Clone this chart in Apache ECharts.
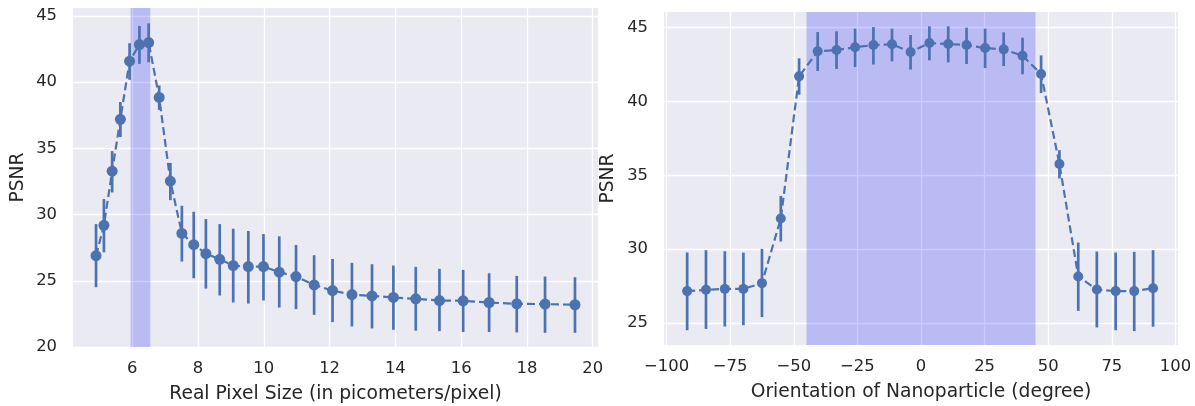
<!DOCTYPE html>
<html>
<head>
<meta charset="utf-8">
<script src="https://cdn.jsdelivr.net/npm/echarts@6/dist/echarts.min.js"></script>
<style>
html,body{margin:0;padding:0;background:#fff;}
#chart{width:1195px;height:406px;}
</style>
</head>
<body>
<div id="chart"></div>
<script>
// ---- Left panel: PSNR vs real pixel size ----
const pixelSize = [4.90, 5.14, 5.39, 5.64, 5.92, 6.22, 6.50, 6.82, 7.16, 7.51, 7.87, 8.24, 8.66, 9.07, 9.53, 9.99, 10.47, 10.98, 11.53, 12.09, 12.68, 13.29, 13.94, 14.62, 15.34, 16.06, 16.85, 17.69, 18.55, 19.46];
const psnrPixel = [26.90, 29.19, 33.28, 37.19, 41.58, 42.84, 42.99, 38.85, 32.52, 28.58, 27.73, 27.05, 26.62, 26.15, 26.07, 26.07, 25.65, 25.32, 24.69, 24.26, 23.96, 23.86, 23.74, 23.64, 23.51, 23.49, 23.36, 23.26, 23.24, 23.19];
const errLowPixel = [24.52, 27.15, 31.67, 35.86, 40.18, 41.38, 41.50, 37.90, 31.09, 26.45, 25.19, 24.41, 23.89, 23.36, 23.28, 23.51, 22.98, 22.86, 22.43, 21.88, 21.55, 21.40, 21.30, 21.23, 21.20, 21.13, 21.13, 21.10, 21.07, 21.07];
const errHighPixel = [29.28, 31.17, 34.79, 38.50, 42.94, 44.25, 44.44, 39.75, 33.90, 30.66, 30.21, 29.66, 29.28, 28.93, 28.76, 28.53, 28.36, 27.70, 26.93, 26.65, 26.35, 26.25, 26.15, 26.05, 25.90, 25.82, 25.57, 25.37, 25.32, 25.27];
const pixelBand = [5.95, 6.55];
const pixelTicks = [6, 8, 10, 12, 14, 16, 18, 20];
const psnrTicksLeft = [20, 25, 30, 35, 40, 45];

// ---- Right panel: PSNR vs orientation ----
const orientation = [-91.9, -84.5, -77.1, -69.8, -62.5, -55.1, -47.9, -40.6, -33.2, -25.9, -18.7, -11.4, -4.1, 3.3, 10.7, 17.9, 25.2, 32.5, 39.9, 47.2, 54.4, 61.8, 69.1, 76.5, 83.8, 91.2];
const psnrOrient = [27.15, 27.24, 27.30, 27.30, 27.69, 32.07, 41.70, 43.40, 43.48, 43.67, 43.82, 43.87, 43.35, 43.96, 43.89, 43.82, 43.62, 43.53, 43.10, 41.86, 35.76, 28.14, 27.26, 27.15, 27.15, 27.35];
const errLowOrient = [24.50, 24.59, 24.75, 24.84, 25.39, 30.51, 40.46, 42.06, 42.20, 42.33, 42.50, 42.72, 42.16, 42.79, 42.65, 42.54, 42.26, 42.40, 41.84, 40.57, 34.78, 25.81, 24.69, 24.50, 24.44, 24.74];
const errHighOrient = [29.77, 29.92, 29.85, 29.76, 30.01, 33.60, 42.92, 44.70, 44.75, 44.93, 45.04, 44.93, 44.50, 45.09, 45.09, 45.00, 44.93, 44.68, 44.32, 43.12, 36.70, 30.44, 29.83, 29.77, 29.81, 29.92];
const orientBand = [-45, 45];
const orientTicks = [-100, -75, -50, -25, 0, 25, 50, 75, 100];
const psnrTicksRight = [25, 30, 35, 40, 45];

const BLUE = '#4C72B0';
const TXT = '#262626';
const FONT = 'DejaVu Sans';
const TICK_SIZE = 16.4;
const NAME_SIZE = 18.7;
const fmt = v => String(v).replace('-', '\u2212');

function xAxisCfg(idx, min, max, ticks, name) {
  return {
    type: 'value', gridIndex: idx, min: min, max: max,
    name: name, nameLocation: 'middle', nameGap: 38,
    nameTextStyle: {color: TXT, fontFamily: FONT, fontSize: NAME_SIZE},
    axisLine: {show: false},
    axisTick: {show: false, customValues: ticks},
    axisLabel: {customValues: ticks, color: TXT, fontFamily: FONT, fontSize: TICK_SIZE, margin: 14, formatter: fmt},
    splitLine: {show: true, lineStyle: {color: '#ffffff', width: 1.3}}
  };
}
function yAxisCfg(idx, min, max, ticks, gap) {
  return {
    type: 'value', gridIndex: idx, min: min, max: max,
    name: 'PSNR', nameLocation: 'middle', nameGap: gap,
    nameTextStyle: {color: TXT, fontFamily: FONT, fontSize: NAME_SIZE},
    axisLine: {show: false},
    axisTick: {show: false, customValues: ticks},
    axisLabel: {customValues: ticks, color: TXT, fontFamily: FONT, fontSize: TICK_SIZE, margin: 16, formatter: fmt},
    splitLine: {show: true, lineStyle: {color: '#ffffff', width: 1.3}}
  };
}

function errSeries(idx, xs, lo, hi) {
  return {
    type: 'custom', xAxisIndex: idx, yAxisIndex: idx, z: 3,
    data: xs.map((x, i) => [x, lo[i], hi[i]]),
    encode: {x: 0, y: [1, 2]},
    renderItem: function (params, api) {
      const p1 = api.coord([api.value(0), api.value(1)]);
      const p2 = api.coord([api.value(0), api.value(2)]);
      return {type: 'line', shape: {x1: p1[0], y1: p1[1], x2: p2[0], y2: p2[1]},
        style: {stroke: BLUE, lineWidth: 2.7}};
    },
    silent: true, animation: false
  };
}
function lineSeries(idx, xs, ys, size) {
  return {
    type: 'line', xAxisIndex: idx, yAxisIndex: idx, z: 4,
    data: xs.map((x, i) => [x, ys[i]]),
    symbol: 'circle', symbolSize: size,
    itemStyle: {color: BLUE},
    lineStyle: {color: BLUE, width: 2.2, type: [8, 4]},
    animation: false, silent: true
  };
}
function bandSeries(idx, band) {
  return {
    type: 'line', xAxisIndex: idx, yAxisIndex: idx, z: 1, data: [],
    markArea: {silent: true, itemStyle: {color: 'rgba(0,0,255,0.2)'},
      data: [[{xAxis: band[0]}, {xAxis: band[1]}]]},
    animation: false
  };
}

const chart = echarts.init(document.getElementById('chart'), null, {renderer: 'canvas'});
chart.setOption({
  backgroundColor: '#ffffff',
  animation: false,
  grid: [
    {left: 73, right: 597, top: 8, bottom: 59, show: true, backgroundColor: '#EAEAF2', borderWidth: 0,
     containLabel: false, outerBoundsMode: 'none'},
    {left: 664, right: 17, top: 12, bottom: 61, show: true, backgroundColor: '#EAEAF2', borderWidth: 0,
     containLabel: false, outerBoundsMode: 'none'}
  ],
  xAxis: [
    xAxisCfg(0, 4.2, 20.16, pixelTicks, 'Real Pixel Size (in picometers/pixel)'),
    xAxisCfg(1, -101, 101, orientTicks, 'Orientation of Nanoparticle (degree)')
  ],
  yAxis: [
    yAxisCfg(0, 20, 45.6, psnrTicksLeft, 45),
    yAxisCfg(1, 23.5, 46.06, psnrTicksRight, 46)
  ],
  series: [
    bandSeries(0, pixelBand),
    errSeries(0, pixelSize, errLowPixel, errHighPixel),
    lineSeries(0, pixelSize, psnrPixel, 11),
    bandSeries(1, orientBand),
    errSeries(1, orientation, errLowOrient, errHighOrient),
    lineSeries(1, orientation, psnrOrient, 10)
  ]
});
</script>
</body>
</html>
